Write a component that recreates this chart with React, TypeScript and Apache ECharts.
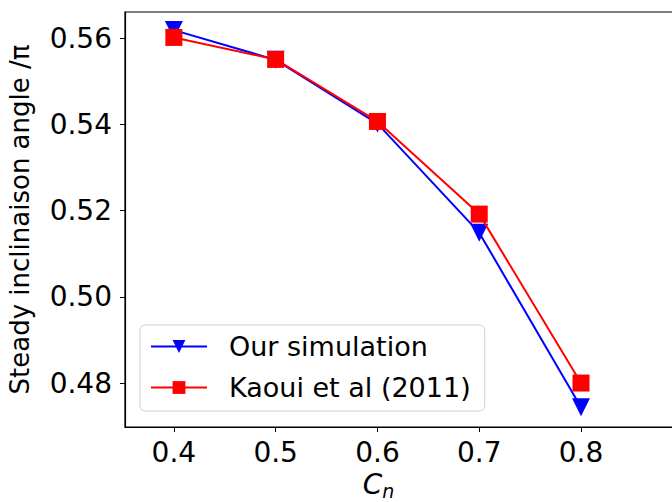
import React, { useEffect, useRef } from "react";
import * as echarts from "echarts";

const cn = [0.4, 0.5, 0.6, 0.7, 0.8];
const ourSimulation = [0.5619, 0.555, 0.5402, 0.5149, 0.4744];
const kaoui2011 = [0.5602, 0.5551, 0.5407, 0.5192, 0.48];
const xTicks = [0.4, 0.5, 0.6, 0.7, 0.8];
const yTicks = [0.48, 0.5, 0.52, 0.54, 0.56];

const FONT = "DejaVu Sans";

export default function App() {
  const ref = useRef<HTMLDivElement>(null);
  useEffect(() => {
    if (!ref.current) return;
    const chart = echarts.init(ref.current, null, { renderer: "svg" });
    chart.setOption({
      animation: false,
      backgroundColor: "#fff",
      textStyle: { fontFamily: FONT },
      grid: {
        left: 125,
        top: 12,
        right: -4,
        bottom: 75,
        outerBoundsMode: "none",
        containLabel: false,
        show: true,
        borderColor: "#000",
        borderWidth: 1.2,
        backgroundColor: "transparent",
      },
      legend: {
        left: 140,
        top: 325,
        orient: "vertical",
        itemWidth: 56,
        itemHeight: 16,
        itemGap: 14,
        padding: [8, 14, 10, 10],
        borderColor: "#d0d0d0",
        borderWidth: 1,
        borderRadius: 5,
        textStyle: { fontFamily: FONT, fontSize: 27, color: "#000", padding: [0, 0, 0, 17] },
        data: ["Our simulation", "Kaoui et al (2011)"],
      },
      xAxis: {
        type: "value",
        min: 0.352,
        max: 0.8 + 95 / 1018,
        splitLine: { show: false },
        axisLine: { show: true, lineStyle: { color: "#000", width: 1.2 } },
        axisTick: {
          show: true,
          inside: false,
          length: 5,
          lineStyle: { color: "#000", width: 1 },
          customValues: xTicks,
        },
        axisLabel: {
          customValues: xTicks,
          formatter: (v: number) => v.toFixed(1),
          fontSize: 28,
          color: "#000",
          margin: 11,
          fontFamily: FONT,
        },
        name: "{c|C}{n|n}",
        nameLocation: "middle",
        nameGap: 40,
        nameTextStyle: {
          padding: [0, 44, 0, 0],
          rich: {
            c: { fontSize: 28, fontStyle: "italic", fontFamily: FONT, color: "#000" },
            n: { fontSize: 19, fontStyle: "italic", fontFamily: FONT, color: "#000", padding: [12, 0, 0, 0] },
          },
        },
      },
      yAxis: {
        type: "value",
        min: 0.4698,
        max: 0.5661,
        splitLine: { show: false },
        axisLine: { show: true, lineStyle: { color: "#000", width: 1.2 } },
        axisTick: {
          show: true,
          inside: false,
          length: 5,
          lineStyle: { color: "#000", width: 1 },
          customValues: yTicks,
        },
        axisLabel: {
          customValues: yTicks,
          formatter: (v: number) => v.toFixed(2),
          fontSize: 28,
          color: "#000",
          margin: 13,
          fontFamily: FONT,
        },
        name: "Steady inclinaison angle /π",
        nameLocation: "middle",
        nameGap: 92,
        nameTextStyle: { fontSize: 26, color: "#000", fontFamily: FONT },
      },
      series: [
        {
          name: "Our simulation",
          type: "line",
          data: cn.map((x, i) => [x, ourSimulation[i]]),
          symbol: "triangle",
          symbolRotate: 180,
          symbolSize: 18,
          showAllSymbol: true,
          lineStyle: { color: "#0000ff", width: 2 },
          itemStyle: { color: "#0000ff", borderWidth: 0 },
          z: 2,
        },
        {
          name: "Kaoui et al (2011)",
          type: "line",
          data: cn.map((x, i) => [x, kaoui2011[i]]),
          symbol: "rect",
          symbolSize: 17,
          showAllSymbol: true,
          lineStyle: { color: "#ff0000", width: 2 },
          itemStyle: { color: "#ff0000", borderWidth: 0 },
          z: 3,
        },
      ],
    });
    return () => chart.dispose();
  }, []);
  return <div ref={ref} style={{ width: 672, height: 502, position: "absolute", left: 0, top: 0 }} />;
}
